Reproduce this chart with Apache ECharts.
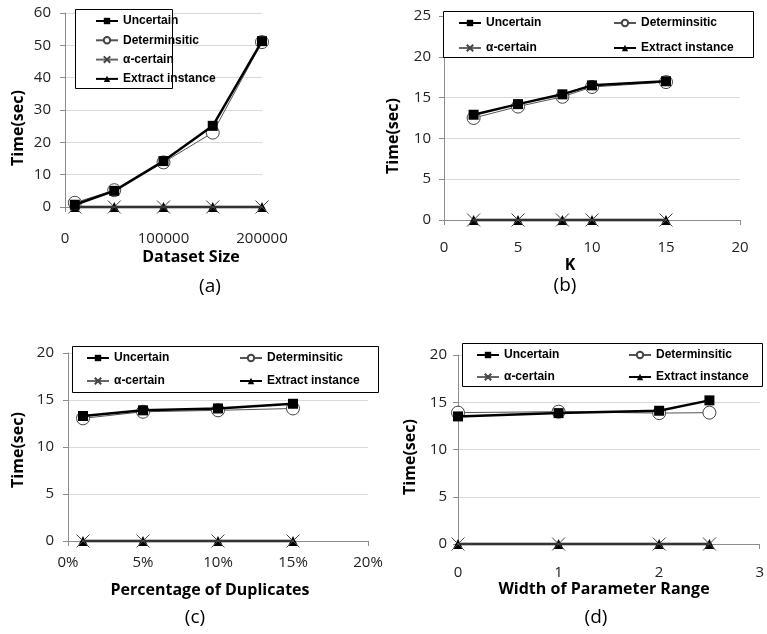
<!DOCTYPE html>
<html><head><meta charset="utf-8">
<script src="https://cdn.jsdelivr.net/npm/echarts@6/dist/echarts.min.js"></script>
<style>html,body{margin:0;padding:0;background:#fff}#c{width:767px;height:634px}</style>
</head><body><div id="c"></div>
<script>
const seriesNames = ['Uncertain', 'Determinsitic', 'α-certain', 'Extract instance'];

const xA = [10000, 50000, 100000, 150000, 200000];
const uncA = [0.7, 5.0, 14.2, 25.1, 51.3];
const detA = [1.3, 5.2, 13.8, 23.0, 51.0];
const alphaA = [0, 0, 0, 0, 0];
const extA = [0, 0, 0, 0, 0];

const xB = [2, 5, 8, 10, 15];
const uncB = [12.9, 14.2, 15.4, 16.5, 17.0];
const detB = [12.5, 13.9, 15.1, 16.3, 16.9];
const alphaB = [0, 0, 0, 0, 0];
const extB = [0, 0, 0, 0, 0];

const xC = [1, 5, 10, 15];
const uncC = [13.3, 13.9, 14.1, 14.6];
const detC = [13.05, 13.75, 13.9, 14.1];
const alphaC = [0, 0, 0, 0];
const extC = [0, 0, 0, 0];

const xD = [0, 1, 2, 2.5];
const uncD = [13.5, 13.85, 14.1, 15.2];
const detD = [13.9, 14.0, 13.85, 13.9];
const alphaD = [0, 0, 0, 0];
const extD = [0, 0, 0, 0];

const xTitles = ['Dataset Size', 'K', 'Percentage of Duplicates', 'Width of Parameter Range'];
const yTitle = 'Time(sec)';
const panelLabels = ['(a)', '(b)', '(c)', '(d)'];

const panels = [
  {x: xA, s: [uncA, detA, alphaA, extA]},
  {x: xB, s: [uncB, detB, alphaB, extB]},
  {x: xC, s: [uncC, detC, alphaC, extC]},
  {x: xD, s: [uncD, detD, alphaD, extD]}
];

const chart = echarts.init(document.getElementById('c'), null, {renderer: 'canvas'});

const grids = [
  {left: 65, top: 13, width: 197, height: 194},
  {left: 444, top: 16, width: 296, height: 204},
  {left: 68, top: 353, width: 300, height: 188},
  {left: 458, top: 355, width: 304, height: 189}
];
const xCfg = [
  {min: 0, max: 200000, interval: 100000, margin: 24, suffix: ''},
  {min: 0, max: 20, interval: 5, margin: 20, suffix: ''},
  {min: 0, max: 20, interval: 5, margin: 14, suffix: '%'},
  {min: 0, max: 3, interval: 1, margin: 21, suffix: ''}
];
const yCfg = [
  {max: 60, interval: 10, margin: 14},
  {max: 25, interval: 5, margin: 13},
  {max: 20, interval: 5, margin: 14},
  {max: 20, interval: 5, margin: 11}
];

const tickFont = {fontFamily: 'Open Sans', fontSize: 15, color: '#222'};
const axisGray = '#8c8c8c';

const xAxes = xCfg.map((c, i) => ({
  type: 'value', gridIndex: i, min: c.min, max: c.max, interval: c.interval,
  axisLine: {show: true, onZero: false, lineStyle: {color: axisGray, width: 1}},
  axisTick: {show: true, length: 5, lineStyle: {color: axisGray}},
  splitLine: {show: false},
  axisLabel: Object.assign({margin: c.margin, formatter: v => String(v) + c.suffix}, tickFont)
}));
const yAxes = yCfg.map((c, i) => ({
  type: 'value', gridIndex: i, min: 0, max: c.max, interval: c.interval,
  axisLine: {show: true, lineStyle: {color: axisGray, width: 1}},
  axisTick: {show: true, length: 5, lineStyle: {color: axisGray}},
  splitLine: {show: true, lineStyle: {color: '#d9d9d9', width: 1}},
  axisLabel: Object.assign({margin: c.margin, formatter: v => String(v)}, tickFont)
}));

const xPath = 'path://M0,0L10,10M10,0L0,10';
const styles = [
  {symbol: 'rect', symbolSize: 10, lineStyle: {color: '#000', width: 2.5}, itemStyle: {color: '#000'}, z: 6},
  {symbol: 'circle', symbolSize: 13, lineStyle: {color: '#555', width: 1}, itemStyle: {color: '#fff', borderColor: '#444', borderWidth: 1}, z: 5},
  {symbol: xPath, symbolSize: 13, lineStyle: {color: '#666', width: 1}, itemStyle: {color: 'rgba(0,0,0,0)', borderColor: '#444', borderWidth: 1}, z: 4},
  {symbol: 'triangle', symbolSize: 10, lineStyle: {color: '#000', width: 2.5}, itemStyle: {color: '#000'}, z: 3}
];

const series = [];
panels.forEach((p, pi) => {
  p.s.forEach((vals, si) => {
    const st = styles[si];
    series.push({
      type: 'line', name: seriesNames[si], xAxisIndex: pi, yAxisIndex: pi,
      data: p.x.map((x, k) => [x, vals[k]]),
      symbol: st.symbol, symbolSize: st.symbolSize, showAllSymbol: true,
      lineStyle: st.lineStyle, itemStyle: st.itemStyle, z: st.z,
      clip: false, animation: false, emphasis: {disabled: true}
    });
  });
});

const legendText = {fontFamily: 'Liberation Sans', fontWeight: 'bold', fontSize: 12, color: '#000', lineHeight: 14};
function mkLegend(names, left, top, gap) {
  return {
    data: names, orient: 'vertical', left: left, top: top, itemGap: gap,
    itemWidth: 22, itemHeight: 8, padding: 0, textStyle: legendText,
    selectedMode: false, z: 10
  };
}
const legends = [
  mkLegend(seriesNames, 95, 14, 5.3),
  mkLegend([seriesNames[0], seriesNames[2]], 458, 16, 11),
  mkLegend([seriesNames[1], seriesNames[3]], 613, 16, 11),
  mkLegend([seriesNames[0], seriesNames[2]], 86, 351, 9),
  mkLegend([seriesNames[1], seriesNames[3]], 239, 351, 9),
  mkLegend([seriesNames[0], seriesNames[2]], 476, 348, 8),
  mkLegend([seriesNames[1], seriesNames[3]], 628, 348, 8)
];

const boxes = [
  [75, 9, 97, 79], [443, 11, 310, 46], [72, 346, 306, 46], [462, 343, 300, 43]
];
const graphics = boxes.map(b => ({
  type: 'rect', shape: {x: b[0] + 0.5, y: b[1] + 0.5, width: b[2], height: b[3]},
  style: {fill: '#fff', stroke: '#000', lineWidth: 1}, z: 8
}));

const titleFont = 'bold 16px "Open Sans"';
const yTitlePos = [[18, 128], [393, 136], [18, 450], [410, 457]];
yTitlePos.forEach(p => graphics.push({
  type: 'text', x: p[0], y: p[1], rotation: Math.PI / 2,
  style: {text: yTitle, font: titleFont, fill: '#000', align: 'center', verticalAlign: 'middle'}, z: 8
}));
const xTitlePos = [[191, 257], [570, 265], [210, 590], [604, 589]];
xTitlePos.forEach((p, i) => graphics.push({
  type: 'text', x: p[0], y: p[1],
  style: {text: xTitles[i], font: titleFont, fill: '#000', align: 'center', verticalAlign: 'middle'}, z: 8
}));
const labelPos = [[210, 287], [565, 286], [195, 618], [596, 618]];
labelPos.forEach((p, i) => graphics.push({
  type: 'text', x: p[0], y: p[1],
  style: {text: panelLabels[i], font: '19px "Open Sans"', fill: '#000', align: 'center', verticalAlign: 'middle'}, z: 8
}));

chart.setOption({
  animation: false,
  backgroundColor: '#fff',
  grid: grids,
  xAxis: xAxes,
  yAxis: yAxes,
  legend: legends,
  series: series,
  graphic: graphics
});
</script></body></html>
